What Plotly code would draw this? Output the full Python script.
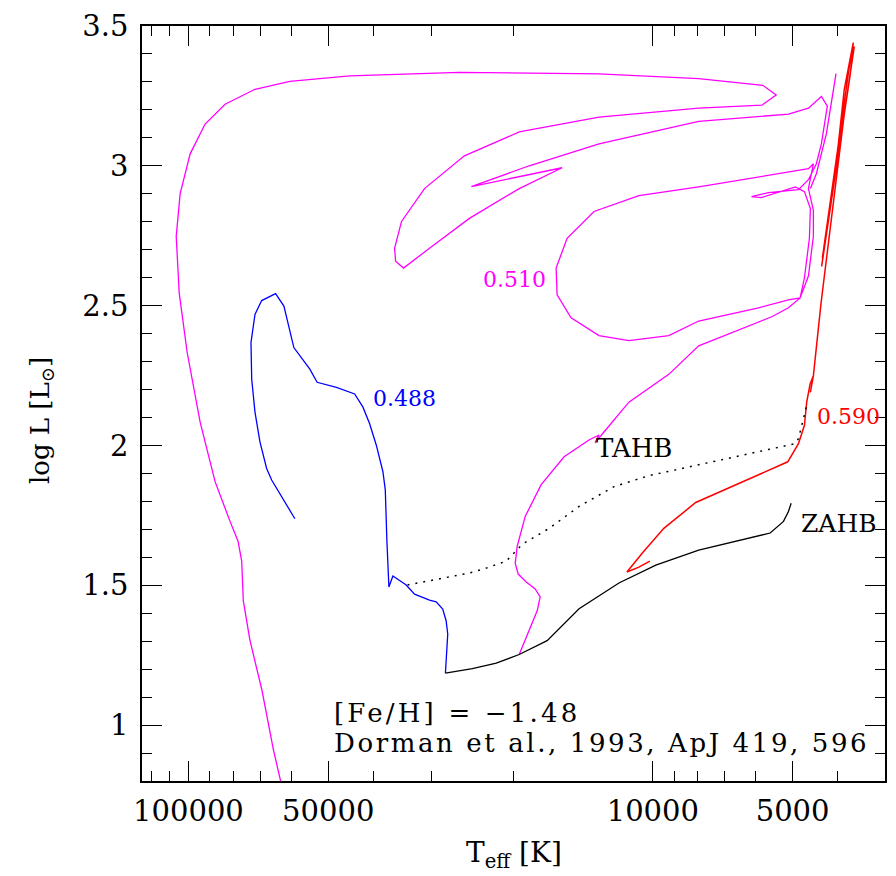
import plotly.graph_objects as go

# ---------------- data (log Teff, log L) ----------------
# Zero-age horizontal branch
zahb_logt = [4.4466, 4.3886, 4.3371, 4.2877, 4.2276, 4.1588, 4.0729, 3.9935, 3.9012,
             3.7472, 3.7186, 3.7079, 3.7021]
zahb_logl = [1.1859, 1.2016, 1.2215, 1.2524, 1.3021, 1.4158, 1.5081, 1.5721, 1.6254,
             1.6868, 1.7284, 1.7639, 1.7934]

# Terminal-age horizontal branch (dotted)
tahb_logt = [4.5282, 4.4595, 4.3950, 4.3585, 4.3156, 4.2812, 4.2233, 4.1588, 4.0837,
             4.0085, 3.9012, 3.6935, 3.6864, 3.6757, 3.6686]
tahb_logl = [1.5011, 1.5224, 1.5437, 1.5614, 1.5863, 1.6467, 1.7035, 1.7817, 1.8527,
             1.8918, 1.9309, 2.0065, 2.0243, 2.0954, 2.1430]

# 0.488 Msun track
m488_logt = [4.4466, 4.4438, 4.4416, 4.4451, 4.4524, 4.4665, 4.4809, 4.5131, 4.5239,
             4.5310, 4.5597, 4.5683, 4.5726, 4.5739, 4.5761, 4.5812, 4.5954, 4.6098,
             4.6242, 4.6420, 4.6813, 4.7229, 4.7386, 4.7730, 4.7944, 4.8123, 4.8423,
             4.8567, 4.8653, 4.8638, 4.8567, 4.8460, 4.8316, 4.8208, 4.7708]
m488_logl = [1.1859, 1.2549, 1.3259, 1.3732, 1.4147, 1.4407, 1.4467, 1.4680, 1.4858,
             1.5011, 1.5330, 1.4940, 1.6574, 1.7639, 1.8410, 1.9060, 2.0009, 2.0776,
             2.1370, 2.1842, 2.2080, 2.2258, 2.2730, 2.3501, 2.4982, 2.5430, 2.5181,
             2.4684, 2.3678, 2.2375, 2.1192, 2.0126, 1.9178, 1.8765, 1.7380]

# 0.510 Msun track (None = gap between pieces)
m510_logt = [4.2877, 4.2662, 4.2490, 4.2426, 4.2533, 4.2726, 4.2898, 4.2963, 4.2920,
             4.2748, 4.2404, 4.1910, 4.1374, 4.1159, 4.1245, 4.1052, 4.0515, 3.9656,
             3.9012, 3.7438, 3.7079, 3.6828, 3.6649, 3.6542, 3.6542, 3.6649, 3.6585,
             3.6542, 3.6649, 3.9012, 4.0300, 4.1266, 4.1846, 4.2082, 4.2061, 4.1760,
             4.1159, 4.0515, 3.9656, 3.9012, 3.7723, 3.7079, 3.6828, 3.6735, 3.6628,
             3.6607, 3.6735, 3.6929, 3.7659, 3.7874, 3.7508, 3.6864, 3.6649, 3.6478,
             3.6370, 3.6284, 3.6242, 3.6370, 3.6649, 3.7079, 3.9012, 4.1159, 4.2662,
             4.3907, 4.1953, 4.2877, 4.3950, 4.4809, 4.5368, 4.5539, 4.5561, 4.5411,
             4.4917, 4.4058, 4.2877, 4.1159, 3.9012, 3.7652, 3.7343, 3.7631, 3.9012,
             4.1159, 4.4165, 4.6527, 4.7816, 4.8567, 4.9211, 4.9641, 4.9963, 5.0178,
             5.0263, 5.0199, 5.0027, 4.9748, 4.9426, 4.9104, 4.8932, 4.8853, 4.8818,
             4.8674, 4.8417, 4.8170, 4.7923,
             None, 3.6055, 3.6263, 3.6478, 3.6607]
m510_logl = [1.2524, 1.3376, 1.4087, 1.4584, 1.4869, 1.5117, 1.5401, 1.5792, 1.6396,
             1.7462, 1.8599, 1.9593, 2.0197, 2.0375, 2.0091, 2.0481, 2.1547, 2.2542,
             2.3561, 2.4602, 2.4922, 2.5277, 2.6059, 2.7480, 2.8403, 2.9185, 2.9789,
             3.0073, 2.9895, 2.9245, 2.8936, 2.8368, 2.7409, 2.6343, 2.5384, 2.4567,
             2.3927, 2.3749, 2.3927, 2.4449, 2.4922, 2.5206, 2.5277, 2.5988, 2.7409,
             2.8474, 2.9078, 2.9245, 2.8865, 2.8901, 2.9043, 2.9149, 2.9504, 3.0073,
             3.0783, 3.1671, 3.2133, 3.2478, 3.2062, 3.1849, 3.1590, 3.0783, 3.0002,
             2.9256, 2.9931, 2.9185, 2.8119, 2.7053, 2.6343, 2.6591, 2.7053, 2.8012,
             2.9185, 3.0357, 3.1210, 3.1742, 3.2062, 3.2169, 3.2535, 3.2879, 3.3117,
             3.3288, 3.3341, 3.3217, 3.3021, 3.2737, 3.2204, 3.1494, 3.0428, 2.9007,
             2.7480, 2.5455, 2.3323, 2.0836, 1.8705, 1.7284, 1.6574, 1.5863, 1.4442,
             1.3021, 1.1245, 0.9114, 0.7337,
             None, 3.3295, 3.1139, 2.9718, 2.9185]

# 0.590 Msun track
m590_logt = [4.0064, 4.0300, 4.0558, 4.0193, 3.9763, 3.9076, 3.7094, 3.6864, 3.6735,
             3.6686, 3.6613, 3.6542, 3.6607, 3.6542, 3.6377, 3.6220, 3.6020, 3.5877,
             3.5748, 3.5683, 3.5877, 3.6027, 3.6364, 3.5662, 3.6349, 3.5726]
m590_logl = [1.5863, 1.5650, 1.5472, 1.6218, 1.7035, 1.7959, 1.9415, 2.0065, 2.0719,
             2.1547, 2.2197, 2.2495, 2.1902, 2.2495, 2.5099, 2.7231, 2.9956, 3.1849,
             3.3270, 3.4407, 3.2737, 3.0428, 2.6403, 3.4265, 2.6698, 3.4052]

# labels
label_text = ["0.510", "0.488", "0.590", "TAHB", "ZAHB"]
label_logt = [4.2984, 4.5346, 3.5790, 4.0407, 3.5984]
label_logl = [2.5917, 2.1689, 2.1050, 1.9913, 1.7213]
label_color = ["#ff00ff", "#0000ff", "#ff0000", "black", "black"]
label_size = [22, 22, 22, 26, 25]

# axes ticks
x_major = [100000, 50000, 10000, 5000]
x_major_text = ["100000", "50000", "10000", "5000"]
x_minor = [120000, 110000, 90000, 80000, 70000, 60000, 40000, 30000, 20000,
           9000, 8000, 7000, 6000, 4000]
y_major = [1, 1.5, 2, 2.5, 3, 3.5]
y_major_text = ["1", "1.5", "2", "2.5", "3", "3.5"]


def teff(v):
    return [None if a is None else 10 ** a for a in v]


FONT = "DejaVu Serif"
fig = go.Figure()

fig.add_trace(go.Scatter(x=teff(m510_logt), y=m510_logl, mode="lines",
                         line=dict(color="#ff00ff", width=1.3), hoverinfo="skip"))
fig.add_trace(go.Scatter(x=teff(m488_logt), y=m488_logl, mode="lines",
                         line=dict(color="#0000ff", width=1.3), hoverinfo="skip"))
fig.add_trace(go.Scatter(x=teff(m590_logt), y=m590_logl, mode="lines",
                         line=dict(color="#ff0000", width=1.5), hoverinfo="skip"))
fig.add_trace(go.Scatter(x=teff(zahb_logt), y=zahb_logl, mode="lines",
                         line=dict(color="black", width=1.3), hoverinfo="skip"))
fig.add_trace(go.Scatter(x=teff(tahb_logt), y=tahb_logl, mode="lines",
                         line=dict(color="black", width=1.5, dash="2px,6px"),
                         hoverinfo="skip"))

annotations = []
for t, lx, ly, c, s in zip(label_text, label_logt, label_logl, label_color, label_size):
    annotations.append(dict(x=lx, y=ly, xref="x", yref="y", text=t, showarrow=False,
                            font=dict(family=FONT, size=s, color=c),
                            xanchor="center", yanchor="middle"))

annotations += [
    dict(x=0.256, y=0.090, xref="paper", yref="paper",
         text='<span style="letter-spacing:3.2px">[Fe/H] = \u22121.48</span>',
         showarrow=False, xanchor="left", yanchor="middle",
         font=dict(family=FONT, size=26, color="black")),
    dict(x=0.256, y=0.050, xref="paper", yref="paper",
         text='<span style="letter-spacing:2.6px">Dorman et al., 1993, ApJ 419, 596</span>',
         showarrow=False, xanchor="left", yanchor="middle",
         font=dict(family=FONT, size=26, color="black")),
    dict(x=0.501, y=-0.097, xref="paper", yref="paper",
         text="T<sub>eff</sub> [K]", showarrow=False,
         xanchor="center", yanchor="middle",
         font=dict(family=FONT, size=28, color="black")),
    dict(x=-0.136, y=0.478, xref="paper", yref="paper",
         text="log L [L<sub>\u2299</sub>]", showarrow=False, textangle=-90,
         xanchor="center", yanchor="middle",
         font=dict(family=FONT, size=26, color="black")),
]

fig.update_layout(
    width=896, height=876,
    margin=dict(l=142, r=9, t=21, b=95),
    paper_bgcolor="white", plot_bgcolor="white",
    showlegend=False,
    annotations=annotations,
    xaxis=dict(
        type="log", range=[5.1, 3.5],
        tickmode="array", tickvals=x_major, ticktext=x_major_text,
        ticks="inside", ticklen=20, tickwidth=1, tickcolor="black",
        minor=dict(tickmode="array", tickvals=x_minor, ticks="inside",
                   ticklen=10, tickwidth=1, tickcolor="black", showgrid=False),
        showline=True, linecolor="black", linewidth=1.5, mirror="allticks",
        showgrid=False, zeroline=False, ticklabelstandoff=3,
        tickfont=dict(family=FONT, size=29, color="black"),
    ),
    yaxis=dict(
        range=[0.8, 3.5],
        tickmode="array", tickvals=y_major, ticktext=y_major_text,
        ticks="inside", ticklen=20, tickwidth=1, tickcolor="black",
        minor=dict(tick0=0, dtick=0.1, ticks="inside",
                   ticklen=10, tickwidth=1, tickcolor="black", showgrid=False),
        showline=True, linecolor="black", linewidth=1.5, mirror="allticks",
        showgrid=False, zeroline=False, ticklabelstandoff=6,
        tickfont=dict(family=FONT, size=29, color="black"),
    ),
)

fig.write_html("out.html")
